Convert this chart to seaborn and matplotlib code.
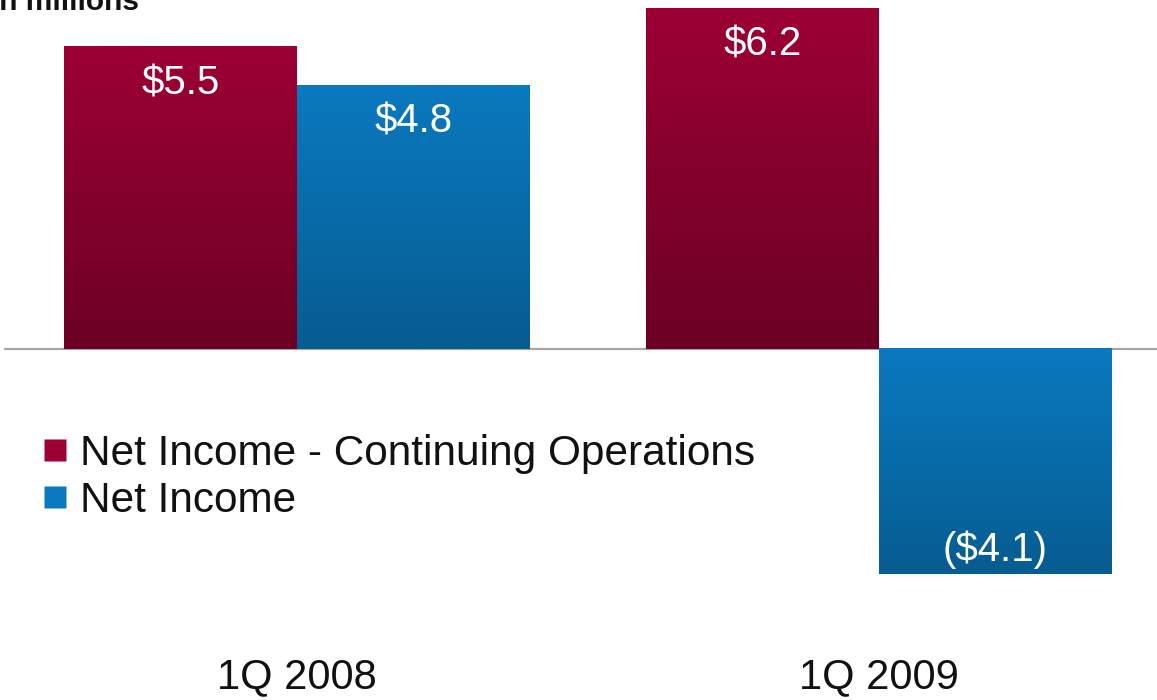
import numpy as np
import pandas as pd
import matplotlib
matplotlib.use("Agg")
import matplotlib.pyplot as plt
from matplotlib.colors import to_rgb
from matplotlib.lines import Line2D
import seaborn as sns

# Quarterly results, $ millions
quarters = ["1Q 2008", "1Q 2009"]
series_names = ["Net Income - Continuing Operations", "Net Income"]
cont_ops = [5.5, 6.2]
net_income = [4.8, -4.1]

# Gradient endpoints (top, bottom) for each series
top_colors = ["#9c0034", "#0a79bf"]
bottom_colors = ["#6c0024", "#075c91"]

df = pd.DataFrame({
    "quarter": quarters * 2,
    "series": [series_names[0]] * 2 + [series_names[1]] * 2,
    "value": cont_ops + net_income,
})

sns.set_theme(style="white")
plt.rcParams["font.family"] = ["Liberation Sans", "DejaVu Sans"]

W, H = 1157, 700
fig = plt.figure(figsize=(W / 100, H / 100), dpi=100)
ax = fig.add_axes([0, 80 / H, 1, 620 / H])

sns.barplot(data=df, x="quarter", y="value", hue="series",
            hue_order=series_names, order=quarters,
            palette=top_colors, width=0.8, ax=ax, legend=False,
            saturation=1)

ax.set_xlim(-297 / 582, 1 + 278 / 582)
ax.set_ylim(-(620 - 349) / 55, 349 / 55)

# Replace flat fills with vertical gradients
for si, cont in enumerate(ax.containers):
    c_top = np.array(to_rgb(top_colors[si]))
    c_bot = np.array(to_rgb(bottom_colors[si]))
    t = np.linspace(0, 1, 256)[:, None, None]
    grad = c_top[None, None, :] * (1 - t) + c_bot[None, None, :] * t
    for patch, val in zip(cont.patches, cont.datavalues):
        x0, w = patch.get_x(), patch.get_width()
        y_hi, y_lo = max(val, 0), min(val, 0)
        patch.set_facecolor("none")
        patch.set_edgecolor("none")
        ax.imshow(grad, extent=(x0, x0 + w, y_lo, y_hi), aspect="auto",
                  origin="upper", zorder=2, interpolation="bilinear")
        label = f"${val:.1f}" if val >= 0 else f"(${abs(val):.1f})"
        ypos = val - 0.67 if val >= 0 else val + 0.45
        ax.text(x0 + w / 2, ypos, label, ha="center", va="center",
                color="white", fontsize=29, zorder=3)

ax.axhline(0, xmin=5 / W, xmax=1, color="#a5a5a5", lw=1.6, zorder=1)

for s in ax.spines.values():
    s.set_visible(False)
ax.set_yticks([])
ax.set_xlabel("")
ax.set_ylabel("")
ax.tick_params(axis="x", length=0, pad=27, labelsize=30, labelcolor="#111111")

handles = [Line2D([], [], marker="s", linestyle="none", markersize=16,
                  markerfacecolor=top_colors[i], markeredgecolor="none")
           for i in range(2)]
leg = fig.legend(handles, series_names, loc="upper left",
                 bbox_to_anchor=(42 / W, 1 - 434 / H), frameon=False,
                 fontsize=30.5, handlelength=0.6, handletextpad=0.3,
                 labelspacing=0.17, borderpad=0, borderaxespad=0)
for txt in leg.get_texts():
    txt.set_color("#111111")

fig.text(-9 / W, 1 - 10 / H, "In millions", fontsize=21.5,
         fontweight="bold", ha="left", va="baseline", color="#111111")

fig.savefig("out.png", dpi=100)
